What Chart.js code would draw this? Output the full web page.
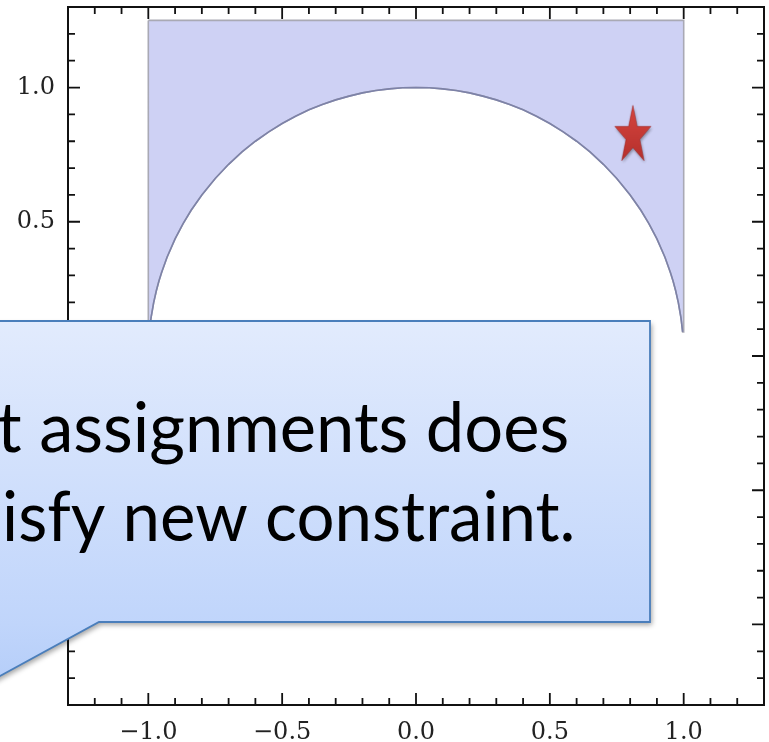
<!DOCTYPE html>
<html>
<head>
<meta charset="utf-8">
<script src="https://cdn.jsdelivr.net/npm/chart.js@4.4.1/dist/chart.umd.min.js"></script>
<style>
  html, body { margin: 0; padding: 0; background: #ffffff; overflow: hidden; }
  canvas { display: block; }
</style>
</head>
<body>
<canvas id="plot" width="769" height="742"></canvas>
<script>
// Upper half of the unit circle bounding the excluded disc (left to right)
const arcX = [-0.996, -0.99, -0.98, -0.97, -0.96, -0.95, -0.93, -0.90, -0.87, -0.84, -0.80, -0.75, -0.70, -0.65,
              -0.60, -0.55, -0.50, -0.45, -0.40, -0.35, -0.30, -0.25, -0.20, -0.15, -0.10, -0.05, 0.00,
              0.05, 0.10, 0.15, 0.20, 0.25, 0.30, 0.35, 0.40, 0.45, 0.50, 0.55, 0.60,
              0.65, 0.70, 0.75, 0.80, 0.84, 0.87, 0.90, 0.93, 0.95, 0.96, 0.97, 0.98, 0.99, 0.996];
const arcY = [0.090, 0.141, 0.199, 0.243, 0.280, 0.312, 0.368, 0.436, 0.493, 0.543, 0.600, 0.661, 0.714, 0.760,
              0.800, 0.835, 0.866, 0.893, 0.917, 0.937, 0.954, 0.968, 0.980, 0.989, 0.995, 0.999, 1.000,
              0.999, 0.995, 0.989, 0.980, 0.968, 0.954, 0.937, 0.917, 0.893, 0.866, 0.835, 0.800,
              0.760, 0.714, 0.661, 0.600, 0.543, 0.493, 0.436, 0.368, 0.312, 0.280, 0.243, 0.199, 0.141, 0.090];

// Feasible band: x in [-1, 1], above the arc, up to y = 1.25
const regionX = [-1.0, 1.0];
const regionTop = [1.25];

// Current assignment (star)
const starX = [0.81];
const starY = [0.82];

// Axis ranges and ticks
const axisRange = [-1.3, 1.3];
const labelTicks = [-1.0, -0.5, 0.0, 0.5, 1.0];
const minorTicks = [-1.2, -1.1, -0.9, -0.8, -0.7, -0.6, -0.4, -0.3, -0.2, -0.1,
                    0.1, 0.2, 0.3, 0.4, 0.6, 0.7, 0.8, 0.9, 1.1, 1.2];

// Callout text
const calloutLines = ['t assignments does', 'isfy new constraint.'];

const fmt = v => (v < 0 ? '\u2212' : '') + Math.abs(v).toFixed(1);

function regionPoints() {
  const pts = [];
  pts.push({ x: regionX[0], y: regionTop[0] });
  pts.push({ x: regionX[1], y: regionTop[0] });
  pts.push({ x: regionX[1], y: arcY[arcY.length - 1] });
  for (let i = arcX.length - 1; i >= 0; i--) pts.push({ x: arcX[i], y: arcY[i] });
  pts.push({ x: regionX[0], y: arcY[0] });
  pts.push({ x: regionX[0], y: regionTop[0] });
  return pts;
}

function starImage() {
  const c = document.createElement('canvas');
  c.width = 48; c.height = 72;
  const g = c.getContext('2d');
  const cx = 24, cy = 36, rx = 19, ry = 30.5, k = 0.382;
  g.beginPath();
  for (let i = 0; i < 10; i++) {
    const a = -Math.PI / 2 + i * Math.PI / 5;
    const f = i % 2 === 0 ? 1 : k;
    const px = cx + Math.cos(a) * rx * f;
    const py = cy + Math.sin(a) * ry * f;
    if (i === 0) g.moveTo(px, py); else g.lineTo(px, py);
  }
  g.closePath();
  const grad = g.createLinearGradient(0, cy - ry, 0, cy + ry);
  grad.addColorStop(0, '#d6463f');
  grad.addColorStop(1, '#b22d2a');
  g.shadowColor = 'rgba(0,0,0,0.35)';
  g.shadowBlur = 3;
  g.shadowOffsetX = 1;
  g.shadowOffsetY = 2;
  g.fillStyle = grad;
  g.fill();
  g.shadowColor = 'transparent';
  g.strokeStyle = 'rgba(150,30,28,0.6)';
  g.lineWidth = 0.8;
  g.stroke();
  return c;
}

// Frame with inward ticks on all four sides
const framePlugin = {
  id: 'frame',
  afterDatasetsDraw(chart) {
    const { ctx, chartArea: a, scales: { x, y } } = chart;
    ctx.save();
    ctx.strokeStyle = '#111111';
    ctx.lineWidth = 2;
    ctx.strokeRect(a.left, a.top, a.right - a.left, a.bottom - a.top);
    const draw = (vals, len) => {
      ctx.beginPath();
      for (const v of vals) {
        const px = x.getPixelForValue(v);
        ctx.moveTo(px, a.bottom); ctx.lineTo(px, a.bottom - len);
        ctx.moveTo(px, a.top); ctx.lineTo(px, a.top + len);
        const py = y.getPixelForValue(v);
        ctx.moveTo(a.left, py); ctx.lineTo(a.left + len, py);
        ctx.moveTo(a.right, py); ctx.lineTo(a.right - len, py);
      }
      ctx.stroke();
    };
    ctx.lineWidth = 1.8;
    draw(labelTicks, 12);
    draw(minorTicks, 7);
    ctx.restore();
  }
};

// Speech-bubble callout laid over the plot
const calloutPlugin = {
  id: 'callout',
  afterDraw(chart) {
    const ctx = chart.ctx;
    const box = { left: -160, top: 321, right: 650, bottom: 622, tailStart: 99 };
    const tailSlope = 54 / 99;
    const tailEndX = box.left;
    const tailEndY = box.bottom + (box.tailStart - tailEndX) * tailSlope;
    ctx.save();
    ctx.beginPath();
    ctx.moveTo(box.left, box.top);
    ctx.lineTo(box.right, box.top);
    ctx.lineTo(box.right, box.bottom);
    ctx.lineTo(box.tailStart, box.bottom);
    ctx.lineTo(tailEndX, tailEndY);
    ctx.closePath();
    const grad = ctx.createLinearGradient(0, box.top, 0, 742);
    grad.addColorStop(0, '#e2ebfd');
    grad.addColorStop(0.72, '#c0d5fb');
    grad.addColorStop(1, '#aac6f6');
    ctx.shadowColor = 'rgba(0,0,0,0.35)';
    ctx.shadowBlur = 5;
    ctx.shadowOffsetX = 2;
    ctx.shadowOffsetY = 3;
    ctx.fillStyle = grad;
    ctx.fill();
    ctx.shadowColor = 'transparent';
    ctx.strokeStyle = '#4a7ebb';
    ctx.lineWidth = 1.8;
    ctx.beginPath();
    ctx.moveTo(box.left, box.top);
    ctx.lineTo(box.right, box.top);
    ctx.lineTo(box.right, box.bottom);
    ctx.lineTo(box.tailStart, box.bottom);
    ctx.lineTo(tailEndX, tailEndY);
    ctx.stroke();

    ctx.fillStyle = '#000000';
    ctx.font = '70px Lato, "Open Sans", sans-serif';
    ctx.textAlign = 'right';
    ctx.textBaseline = 'alphabetic';
    const lines = [
      { text: calloutLines[0], left: -2, right: 567, base: 452 },
      { text: calloutLines[1], left: 5, right: 572, base: 541 }
    ];
    for (const ln of lines) {
      const m = ctx.measureText(ln.text);
      const ink = m.actualBoundingBoxLeft + m.actualBoundingBoxRight;
      const sx = (ln.right - ln.left) / ink;
      ctx.save();
      ctx.translate(ln.right - m.actualBoundingBoxRight * sx, ln.base);
      ctx.scale(sx, 1);
      ctx.fillText(ln.text, 0, 0);
      ctx.restore();
    }
    ctx.restore();
  }
};

function build() {
  const tickFont = { family: '"DejaVu Serif", serif', size: 24 };
  new Chart(document.getElementById('plot'), {
    type: 'scatter',
    data: {
      datasets: [
        {
          data: starX.map((v, i) => ({ x: v, y: starY[i] })),
          showLine: false,
          pointStyle: starImage(),
          pointRadius: 20,
          order: 0
        },
        {
          data: arcX.map((v, i) => ({ x: v, y: arcY[i] })),
          showLine: true,
          fill: false,
          borderColor: '#7d82a8',
          borderWidth: 1.6,
          pointRadius: 0,
          tension: 0,
          order: 1
        },
        {
          data: regionPoints(),
          showLine: true,
          fill: 'shape',
          backgroundColor: 'rgb(206,209,244)',
          borderColor: '#a9a9b4',
          borderWidth: 1.6,
          pointRadius: 0,
          tension: 0,
          order: 2
        }
      ]
    },
    options: {
      responsive: false,
      animation: false,
      devicePixelRatio: 1,
      events: [],
      layout: { padding: { top: 7, right: 5, bottom: 0, left: 0 }, autoPadding: false },
      plugins: { legend: { display: false }, tooltip: { enabled: false } },
      scales: {
        x: {
          type: 'linear', min: axisRange[0], max: axisRange[1],
          grid: { display: false, drawTicks: false }, border: { display: false },
          afterBuildTicks: s => { s.ticks = labelTicks.map(v => ({ value: v })); },
          afterFit: s => { s.height = 37; s.paddingLeft = 0; s.paddingRight = 0; s.paddingTop = 0; s.paddingBottom = 0; },
          ticks: { padding: 13, font: tickFont, color: '#222222', maxRotation: 0, autoSkip: false, callback: v => fmt(v) }
        },
        y: {
          type: 'linear', min: axisRange[0], max: axisRange[1],
          grid: { display: false, drawTicks: false }, border: { display: false },
          afterBuildTicks: s => { s.ticks = labelTicks.map(v => ({ value: v })); },
          afterFit: s => { s.width = 68; s.paddingLeft = 0; s.paddingRight = 0; s.paddingTop = 0; s.paddingBottom = 0; },
          ticks: { padding: 13, font: tickFont, color: '#222222', autoSkip: false, callback: v => fmt(v) }
        }
      }
    },
    plugins: [framePlugin, calloutPlugin]
  });
}

if (document.fonts && document.fonts.load) {
  Promise.all([
    document.fonts.load('70px Lato'),
    document.fonts.load('24px "DejaVu Serif"')
  ]).then(build, build);
} else {
  build();
}
</script>
</body>
</html>
